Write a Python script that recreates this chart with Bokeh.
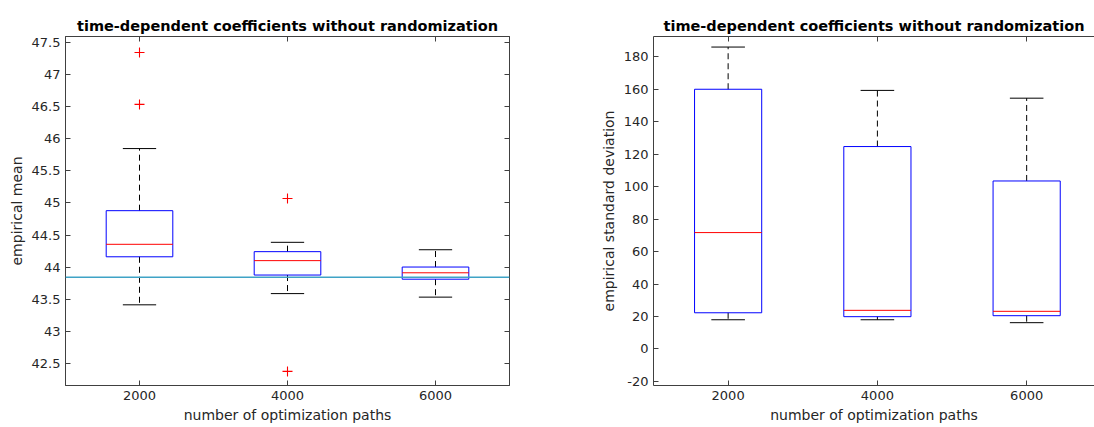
import numpy as np
from bokeh.plotting import figure
from bokeh.layouts import row
from bokeh.models import Range1d, FixedTicker, NumeralTickFormatter, LinearAxis, Span, ColumnDataSource
from bokeh.embed import file_html
from bokeh.resources import INLINE

# ---------------- data ----------------
paths = [2000, 4000, 6000]
x_ticks = [2000, 4000, 6000]

mean_whisker_low = [43.41, 43.585, 43.53]
mean_q1 = [44.16, 43.875, 43.81]
mean_median = [44.355, 44.10, 43.91]
mean_q3 = [44.88, 44.24, 44.00]
mean_whisker_high = [45.85, 44.386, 44.27]
mean_outlier_paths = [2000, 2000, 4000, 4000]
mean_outlier_values = [47.35, 46.54, 45.07, 42.37]
mean_reference = 43.84
mean_y_ticks = [42.5, 43, 43.5, 44, 44.5, 45, 45.5, 46, 46.5, 47, 47.5]

sd_whisker_low = [18.0, 18.0, 16.2]
sd_q1 = [22.3, 19.9, 20.5]
sd_median = [71.7, 23.8, 23.2]
sd_q3 = [160.0, 124.7, 103.5]
sd_whisker_high = [186.0, 159.3, 154.5]
sd_y_ticks = [-20, 0, 20, 40, 60, 80, 100, 120, 140, 160, 180]

title_text = "time-dependent coefficients without randomization"
x_label = "number of optimization paths"

# ---------------- style ----------------
FONT = "DejaVu Sans"
TEXT_COL = "#262626"
LINE_COL = "#404040"
BOX_W = 900
CAP_W = 450


def style(p, yticks, fmt, right_axis=True):
    p.xgrid.visible = False
    p.ygrid.visible = False
    p.background_fill_color = "white"
    p.border_fill_color = "white"
    p.title.text_font = FONT
    p.title.text_font_size = "14.5px"
    p.title.text_font_style = "bold"
    p.title.text_color = "black"
    p.title.align = "center"
    p.title.standoff = 6
    axes = [p.xaxis[0], p.yaxis[0]]
    p.xaxis[0].ticker = FixedTicker(ticks=x_ticks)
    p.yaxis[0].ticker = FixedTicker(ticks=yticks)
    p.yaxis[0].formatter = fmt
    p.xaxis[0].axis_label = x_label
    extra = []
    top = LinearAxis(ticker=FixedTicker(ticks=x_ticks))
    p.add_layout(top, "above")
    extra.append(top)
    if right_axis:
        r = LinearAxis(ticker=FixedTicker(ticks=yticks))
        p.add_layout(r, "right")
        extra.append(r)
    for a in axes + extra:
        a.axis_line_color = LINE_COL
        a.major_tick_line_color = LINE_COL
        a.major_tick_in = 5
        a.major_tick_out = 0
        a.minor_tick_line_color = None
        a.major_label_text_font = FONT
        a.major_label_text_font_size = "13px"
        a.major_label_text_color = TEXT_COL
        a.axis_label_text_font = FONT
        a.axis_label_text_font_size = "14px"
        a.axis_label_text_font_style = "normal"
        a.axis_label_text_color = TEXT_COL
        a.major_label_standoff = 5
        a.axis_label_standoff = 4
    p.xaxis[0].major_label_standoff = 7
    for a in extra:
        a.major_label_text_font_size = "0px"
        a.major_label_text_color = None
        a.major_label_standoff = 0


def boxes(p, lo, q1, med, q3, hi):
    x = np.array(paths, dtype=float)
    lo, q1, med, q3, hi = map(np.asarray, (lo, q1, med, q3, hi))
    # whiskers (dashed)
    p.segment(x0=x, y0=q3, x1=x, y1=hi, line_color="black", line_width=1, line_dash="6 4")
    p.segment(x0=x, y0=q1, x1=x, y1=lo, line_color="black", line_width=1, line_dash="6 4")
    # caps
    p.segment(x0=x - CAP_W / 2, y0=hi, x1=x + CAP_W / 2, y1=hi, line_color="black", line_width=1)
    p.segment(x0=x - CAP_W / 2, y0=lo, x1=x + CAP_W / 2, y1=lo, line_color="black", line_width=1)
    # boxes
    p.vbar(x=x, width=BOX_W, bottom=q1, top=q3, fill_color=None, line_color="#0000ff", line_width=1)
    # medians
    p.segment(x0=x - BOX_W / 2, y0=med, x1=x + BOX_W / 2, y1=med, line_color="#ff0000", line_width=1)


# ---------------- left figure ----------------
p1 = figure(width=597, height=427, output_backend="svg", toolbar_location=None,
            x_range=Range1d(1000, 7000), y_range=Range1d(42.15, 47.6),
            min_border_left=65, min_border_right=88, min_border_top=36, min_border_bottom=42,
            title=title_text)
style(p1, mean_y_ticks, NumeralTickFormatter(format="0.[0]"))
p1.yaxis[0].axis_label = "empirical mean"
p1.outline_line_color = LINE_COL
p1.add_layout(Span(location=mean_reference, dimension="width", line_color="#3fa3c6", line_width=1.5))
boxes(p1, mean_whisker_low, mean_q1, mean_median, mean_q3, mean_whisker_high)
outliers = ColumnDataSource(dict(x=mean_outlier_paths, y=mean_outlier_values))
p1.scatter("x", "y", source=outliers, marker="cross", size=10,
           line_color="#ff0000", fill_color=None, line_width=1.1)

# ---------------- right figure ----------------
p2 = figure(width=497, height=427, output_backend="svg", toolbar_location=None,
            x_range=Range1d(1000, 6909), y_range=Range1d(-22.5, 192.5),
            min_border_left=55, min_border_right=0, min_border_top=36, min_border_bottom=42,
            title=title_text)
style(p2, sd_y_ticks, NumeralTickFormatter(format="0"), right_axis=False)
p2.yaxis[0].axis_label = "empirical standard deviation"
p2.outline_line_color = None
boxes(p2, sd_whisker_low, sd_q1, sd_median, sd_q3, sd_whisker_high)

layout = row(p1, p2, spacing=0)
open("out.html", "w").write(file_html(layout, INLINE))
